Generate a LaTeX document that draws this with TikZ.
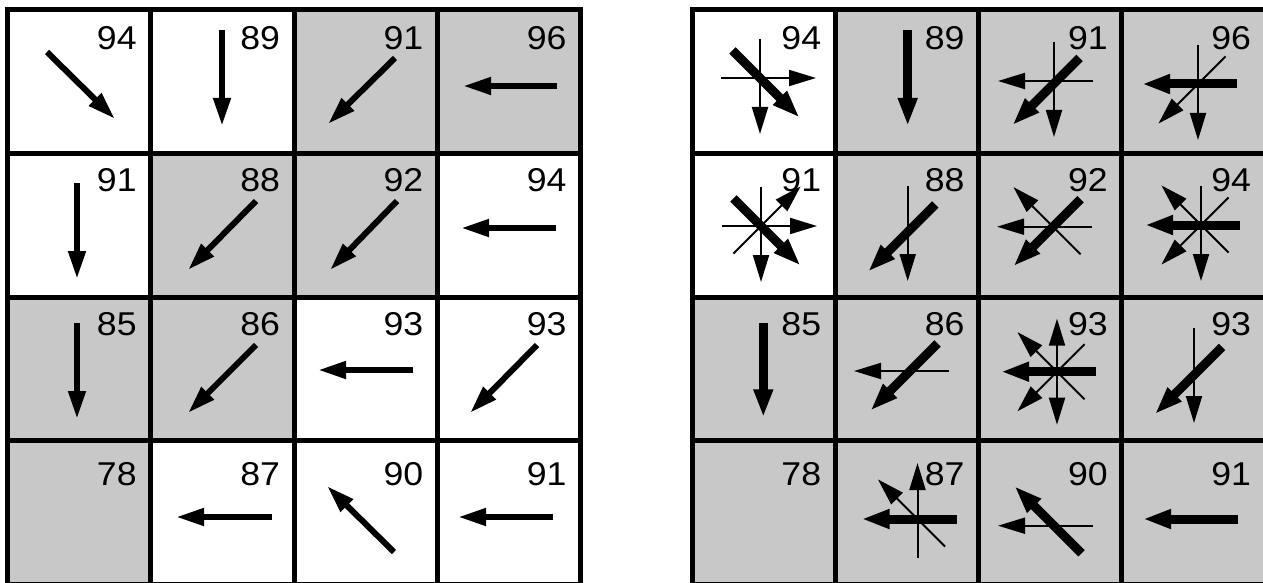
\documentclass[tikz,border=0pt]{standalone}
\usepackage{fontspec}
\newfontfamily\numfont[FakeStretch=1.08]{Liberation Sans}
\usetikzlibrary{arrows.meta}
\definecolor{cellgray}{RGB}{200,200,200}
\tikzset{
  cellw/.style={draw=black, line width=5pt, fill=white, minimum width=143.3pt, minimum height=143.5pt, inner sep=0pt, outer sep=0pt},
  cellg/.style={cellw, fill=cellgray},
  num/.style={font=\numfont\fontsize{33}{33}\selectfont, anchor=base east, inner sep=0pt},
  larrow/.style={line width=6pt, -{Triangle[length=28pt,width=16.5pt]}},
  tharrow/.style={line width=9pt, -{Triangle[length=28pt,width=18pt]}},
  tnarrow/.style={line width=2pt, -{Triangle[length=27pt,width=16pt]}},
  tnboth/.style={line width=2pt, {Triangle[length=27pt,width=16pt]}-{Triangle[length=27pt,width=16pt]}},
}
\newcommand\dirarrow[3]{\draw[#1] ([shift={(#3+180:39pt)}]#2) -- ([shift={(#3:56pt)}]#2);}
\begin{document}
\begin{tikzpicture}[x=1pt,y=-1pt]
\useasboundingbox (0,0) rectangle (1263,583);
% left grid
\foreach \c/\r/\s in {0/0/cellw,1/0/cellw,2/0/cellg,3/0/cellg,
                      0/1/cellw,1/1/cellg,2/1/cellg,3/1/cellw,
                      0/2/cellg,1/2/cellg,2/2/cellw,3/2/cellw,
                      0/3/cellg,1/3/cellw,2/3/cellw,3/3/cellw}{
  \node[\s] (L\c\r) at ({79.15+143.3*\c},{81.75+143.5*\r}) {};
}
% right grid
\foreach \c/\r/\s in {0/0/cellw,1/0/cellg,2/0/cellg,3/0/cellg,
                      0/1/cellw,1/1/cellg,2/1/cellg,3/1/cellg,
                      0/2/cellg,1/2/cellg,2/2/cellg,3/2/cellg,
                      0/3/cellg,1/3/cellg,2/3/cellg,3/3/cellg}{
  \node[\s] (R\c\r) at ({763.65+143.3*\c},{81.75+143.5*\r}) {};
}
% numbers (baseline per row)
\foreach \c/\r/\b/\n in {0/0/50/94,1/0/50/89,2/0/50/91,3/0/50/96,
                         0/1/191.7/91,1/1/191.7/88,2/1/191.7/92,3/1/191.7/94,
                         0/2/335/85,1/2/335/86,2/2/335/93,3/2/335/93,
                         0/3/485/78,1/3/485/87,2/3/485/90,3/3/485/91}{
  \node[num] (Ln\c\r) at ({79.15+143.3*\c+71.65-14},\b) {\n};
}
\foreach \c/\r/\b/\n in {0/0/50/94,1/0/50/89,2/0/50/91,3/0/50/96,
                         0/1/191.7/91,1/1/191.7/88,2/1/191.7/92,3/1/191.7/94,
                         0/2/335/85,1/2/335/86,2/2/335/93,3/2/335/93,
                         0/3/485/78,1/3/485/87,2/3/485/90,3/3/485/91}{
  \node[num] (Rn\c\r) at ({763.65+143.3*\c+71.65-14},\b) {\n};
}
% left grid arrows
\draw[larrow] (47,52) -- (115,119);
\draw[larrow] (222,30) -- (222,126);
\draw[larrow] (395,58) -- (328,124);
\draw[larrow] (557,86) -- (463,86);
\draw[larrow] (77,183) -- (77,279);
\draw[larrow] (256,201) -- (188,270);
\draw[larrow] (397,201) -- (330,270);
\draw[larrow] (556,228) -- (461,228);
\draw[larrow] (77,323) -- (77,419);
\draw[larrow] (256,345) -- (188,413);
\draw[larrow] (413,370) -- (318,370);
\draw[larrow] (537,345) -- (470,413);
\draw[larrow] (272,517) -- (176,517);
\draw[larrow] (394,552) -- (327,486);
\draw[larrow] (553,517) -- (458,517);
% right grid centres
\coordinate (C00) at (760,78);
\coordinate (C20) at (1054,81);
\coordinate (T20) at (1052,85.5);
\coordinate (C30) at (1198,84);
\coordinate (C01) at (761,226);
\coordinate (C11) at (907.7,225);
\coordinate (T11) at (907.7,232);
\coordinate (C21) at (1053,226.7);
\coordinate (C31) at (1201,225);
\coordinate (C12) at (910,371);
\coordinate (C22) at (1057,371.7);
\coordinate (C32) at (1194,367);
\coordinate (T32) at (1194.5,374.5);
\coordinate (C13) at (917.5,519);
\coordinate (C23) at (1054,525.7);
\coordinate (C33) at (1199,519);
% row 0
\dirarrow{tnarrow}{C00}{0}
\dirarrow{tnarrow}{C00}{270}
\dirarrow{tharrow}{C00}{315}
\draw[tharrow] (907.7,30) -- (907.7,126);
\dirarrow{tnarrow}{C20}{180}
\dirarrow{tnarrow}{C20}{270}
\dirarrow{tharrow}{T20}{225}
\dirarrow{tnarrow}{C30}{225}
\dirarrow{tnarrow}{C30}{270}
\dirarrow{tharrow}{C30}{180}
% row 1
\dirarrow{tnarrow}{C01}{45}
\dirarrow{tnarrow}{C01}{0}
\dirarrow{tnarrow}{C01}{270}
\dirarrow{tharrow}{C01}{315}
\dirarrow{tnarrow}{C11}{270}
\dirarrow{tharrow}{T11}{225}
\dirarrow{tnarrow}{C21}{135}
\dirarrow{tnarrow}{C21}{180}
\dirarrow{tharrow}{C21}{225}
\dirarrow{tnarrow}{C31}{135}
\dirarrow{tnarrow}{C31}{225}
\dirarrow{tnarrow}{C31}{270}
\dirarrow{tharrow}{C31}{180}
% row 2
\draw[tharrow] (763.3,322.7) -- (763.3,417.3);
\dirarrow{tnarrow}{C12}{180}
\dirarrow{tharrow}{C12}{225}
\draw[tnboth] ([shift={(90:53pt)}]C22) -- ([shift={(270:53pt)}]C22);
\dirarrow{tnarrow}{C22}{135}
\dirarrow{tnarrow}{C22}{225}
\dirarrow{tharrow}{C22}{180}
\dirarrow{tnarrow}{C32}{270}
\dirarrow{tharrow}{T32}{225}
% row 3
\dirarrow{tnarrow}{C13}{90}
\dirarrow{tnarrow}{C13}{135}
\dirarrow{tharrow}{C13}{180}
\dirarrow{tnarrow}{C23}{180}
\dirarrow{tharrow}{C23}{135}
\dirarrow{tharrow}{C33}{180}
\end{tikzpicture}
\end{document}
